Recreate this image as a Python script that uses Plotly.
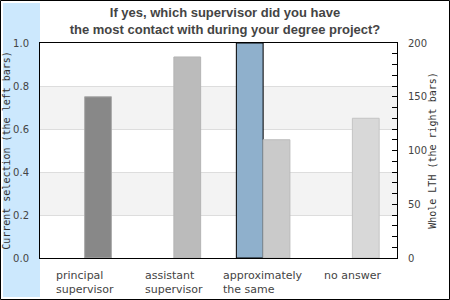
import plotly.graph_objects as go

# ---- data ----
categories = ["principal<br>supervisor", "assistant<br>supervisor", "approximately<br>the same", "no answer"]
current_selection = [0, 0, 1.0, 0]          # left axis (fraction)
whole_lth = [150, 187, 110, 130]            # right axis
left_ticks = [0.0, 0.2, 0.4, 0.6, 0.8, 1.0]
right_ticks = [0, 50, 100, 150, 200]
title_text = "If yes, which supervisor did you have<br>the most contact with during your degree project?"

# ---- styles ----
right_fill = ["#888888", "#bbbbbb", "#cacaca", "#d8d8d8"]
right_line = ["#aaaaaa", "#b4b4b4", "#bbbbbb", "#c4c4c4"]
W, H = 450, 300
L, R, T, B = 40, 53, 43, 42
pw, ph = W - L - R, H - T - B

def px_x(px):
    return (px - L) / pw

def px_y(py):
    return (H - B - py) / ph

fig = go.Figure()
fig.add_trace(go.Bar(
    x=categories, y=current_selection, yaxis="y",
    width=0.3, offset=-0.3,
    marker=dict(color="#8fb0cc",
                line=dict(color="black", width=[1 if v > 0 else 0 for v in current_selection])),
    showlegend=False, hoverinfo="skip",
))
fig.add_trace(go.Bar(
    x=categories, y=whole_lth, yaxis="y2",
    width=0.3, offset=0.0,
    marker=dict(color=right_fill, line=dict(color=right_line, width=1)),
    showlegend=False, hoverinfo="skip",
))

shapes = [
    # outer frame
    dict(type="rect", xref="paper", yref="paper", layer="below",
         x0=px_x(0.5), x1=px_x(449.5), y0=px_y(299.5), y1=px_y(0.5),
         line=dict(color="black", width=1), fillcolor="rgba(0,0,0,0)"),
    # light blue strip
    dict(type="rect", xref="paper", yref="paper", layer="below",
         x0=px_x(3), x1=0, y0=px_y(297), y1=px_y(3),
         line=dict(width=0), fillcolor="#cce8fd"),
]
for lo, hi in [(left_ticks[1], left_ticks[2]), (left_ticks[3], left_ticks[4])]:
    shapes.append(dict(type="rect", xref="paper", yref="y", layer="below",
                       x0=0, x1=1, y0=lo, y1=hi,
                       line=dict(width=0), fillcolor="#f3f3f3"))

annotations = []
for cat in categories:
    annotations.append(dict(
        x=cat, y=0, xref="x", yref="paper", yanchor="top", xanchor="center",
        yshift=-9, text=cat, showarrow=False,
        align="left", font=dict(family="DejaVu Sans", size=11, color="#444444"),
    ))

fig.update_layout(
    width=W, height=H,
    margin=dict(l=L, r=R, t=T, b=B, autoexpand=False),
    paper_bgcolor="white", plot_bgcolor="white",
    title=dict(text=title_text, x=0.5, xref="container", xanchor="center",
               y=1 - 17 / H, yref="container", yanchor="top",
               font=dict(family="Liberation Sans", size=13, color="#444444", weight="bold")),
    barmode="overlay",
    shapes=shapes,
    annotations=annotations,
    xaxis=dict(range=[-0.5, 3.5], showline=True, mirror=True, linecolor="black",
               linewidth=1, showticklabels=False, ticks="", showgrid=False, fixedrange=True),
    yaxis=dict(range=[0, 1], tickvals=left_ticks, tickformat=".1f",
               showline=True, mirror=True, linecolor="black", linewidth=1,
               showgrid=True, gridcolor="#dddddd", gridwidth=1, zeroline=False,
               ticks="", ticklabelstandoff=8,
               tickfont=dict(family="DejaVu Sans", size=10, color="#444444"),
               title=dict(text="Current selection (the left bars)", standoff=0,
                          font=dict(family="DejaVu Sans Mono", size=10, color="#333333"))),
    yaxis2=dict(range=[0, 200], overlaying="y", side="right", tickvals=right_ticks,
                showline=True, linecolor="black", linewidth=1, showgrid=False, zeroline=False,
                ticks="inside", ticklen=5, tickcolor="black", ticklabelstandoff=8,
                minor=dict(dtick=10, ticks="inside", ticklen=5, tickcolor="black", showgrid=False),
                tickfont=dict(family="DejaVu Sans", size=10, color="#444444"),
                title=dict(text="Whole LTH (the right bars)", standoff=1,
                           font=dict(family="DejaVu Sans Mono", size=10, color="#333333"))),
)

fig.write_html("out.html", config={"displayModeBar": False},
               post_script="document.body.style.margin='0';document.body.style.overflow='hidden';")
